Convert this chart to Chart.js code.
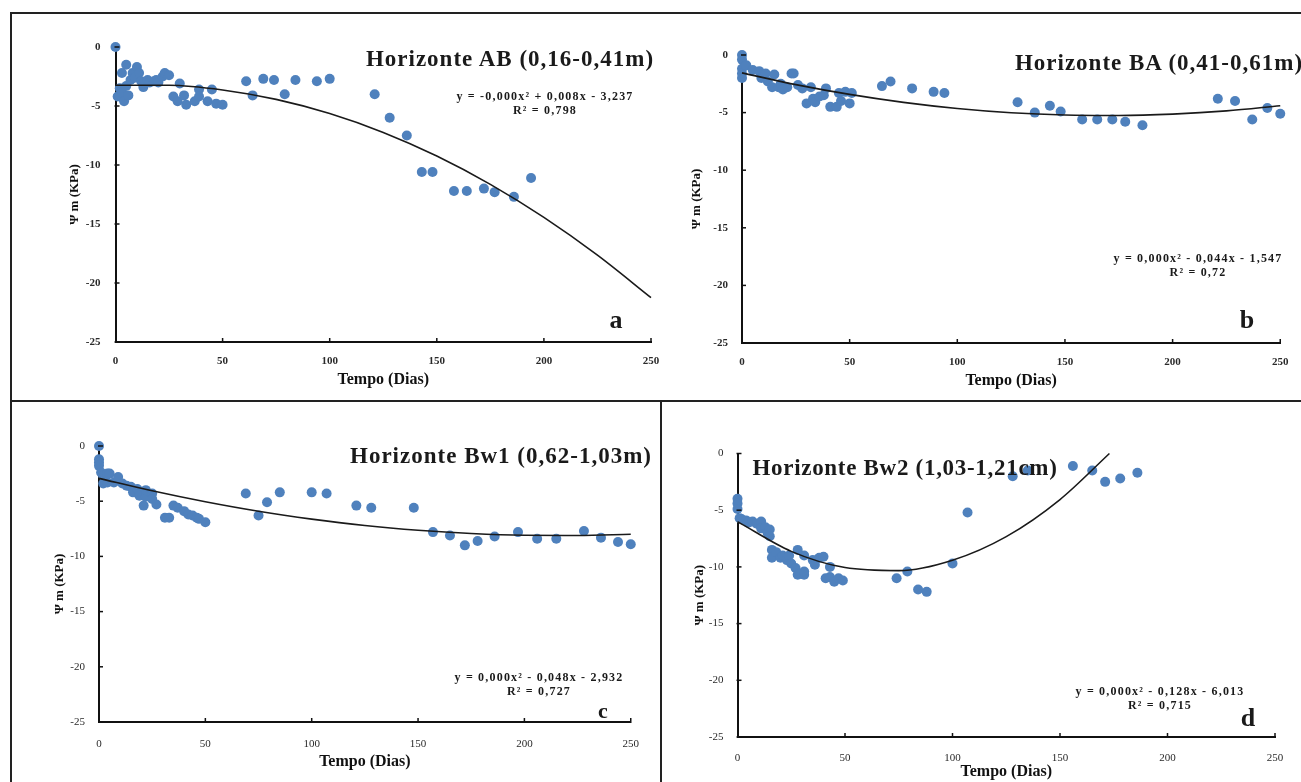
<!DOCTYPE html>
<html><head><meta charset="utf-8">
<script src="https://cdn.jsdelivr.net/npm/chart.js@4.4.1/dist/chart.umd.min.js"></script>
<style>
html,body{margin:0;padding:0;background:#fff;}
body{width:1301px;height:782px;position:relative;overflow:hidden;font-family:"Liberation Serif","Times New Roman",serif;}
canvas{position:absolute;}
.t{position:absolute;white-space:nowrap;font-weight:bold;color:#1a1a1a;transform:translate(-50%,-50%);line-height:1;}
.ttl{font-size:23px;letter-spacing:1px;}
.eq{font-size:12px;letter-spacing:1.2px;text-align:center;line-height:14px;}
.lt{font-size:26px;}
.ln{position:absolute;background:#222;}
</style></head><body>
<div class="ln" style="left:10px;top:12px;width:1291px;height:1.5px"></div>
<div class="ln" style="left:10px;top:12px;width:1.5px;height:770px"></div>
<div class="ln" style="left:10px;top:400px;width:1291px;height:1.5px"></div>
<div class="ln" style="left:660px;top:400px;width:1.5px;height:382px"></div>

<div class="t ttl" style="left:510px;top:58px">Horizonte AB (0,16-0,41m)</div>
<div class="t eq" style="left:545px;top:103px">y = -0,000x² + 0,008x - 3,237<br>R² = 0,798</div>
<div class="t lt" style="left:616px;top:320px">a</div>

<div class="t ttl" style="left:1159px;top:62px">Horizonte BA (0,41-0,61m)</div>
<div class="t eq" style="left:1198px;top:265px">y = 0,000x² - 0,044x - 1,547<br>R² = 0,72</div>
<div class="t lt" style="left:1247px;top:320px">b</div>

<div class="t ttl" style="left:501px;top:455px">Horizonte Bw1 (0,62-1,03m)</div>
<div class="t eq" style="left:539px;top:684px">y = 0,000x² - 0,048x - 2,932<br>R² = 0,727</div>
<div class="t lt" style="left:603px;top:711px;font-size:22px">c</div>

<div class="t ttl" style="left:905px;top:467px;letter-spacing:0.7px">Horizonte Bw2 (1,03-1,21cm)</div>
<div class="t eq" style="left:1160px;top:698px">y = 0,000x² - 0,128x - 6,013<br>R² = 0,715</div>
<div class="t lt" style="left:1248px;top:718px">d</div>

<script>
const xTicks=[0,50,100,150,200,250];
const yTicks=[0,-5,-10,-15,-20,-25];

const daysA=[0,1,2,3,3,4,5,5,6,7,8,9,10,11,12,13,15,16,18,19,20,22,23,25,27,29,30,32,33,37,39,39,43,45,47,50,61,64,69,74,79,84,94,100,121,128,136,143,148,158,164,172,177,186,194];
const psiA=[0,-4.2,-3.5,-2.2,-3.9,-4.6,-1.5,-3.3,-4.1,-2.8,-2.2,-2.6,-1.7,-2.2,-2.9,-3.4,-2.8,-3.0,-2.9,-2.8,-3.0,-2.5,-2.2,-2.4,-4.2,-4.6,-3.1,-4.1,-4.9,-4.6,-3.6,-4.2,-4.6,-3.6,-4.8,-4.9,-2.9,-4.1,-2.7,-2.8,-4.0,-2.8,-2.9,-2.7,-4.0,-6.0,-7.5,-10.6,-10.6,-12.2,-12.2,-12.0,-12.3,-12.7,-11.1];
const trendDaysA=[0,25,50,75,100,125,150,175,200,225,250];
const trendPsiA=[-3.24,-3.24,-3.64,-4.44,-5.64,-7.24,-9.24,-11.64,-14.44,-17.64,-21.24];

const daysB=[0,0,0,0,0,2,5,8,9,11,12,14,15,17,18,19,21,23,24,26,28,30,32,33,34,36,38,39,41,44,45,46,48,50,51,65,69,79,89,94,128,136,143,148,158,165,172,178,186,221,229,237,244,250];
const psiB=[0,-0.4,-1.2,-1.6,-2.0,-0.9,-1.3,-1.4,-2.0,-1.6,-2.3,-2.8,-1.7,-2.8,-2.5,-3.0,-2.8,-1.6,-1.6,-2.6,-2.9,-4.2,-2.8,-3.8,-4.1,-3.6,-3.5,-2.9,-4.5,-4.5,-3.3,-4.0,-3.2,-4.2,-3.3,-2.7,-2.3,-2.9,-3.2,-3.3,-4.1,-5.0,-4.4,-4.9,-5.6,-5.6,-5.6,-5.8,-6.1,-3.8,-4.0,-5.6,-4.6,-5.1];
const trendDaysB=[0,25,50,75,100,125,150,175,200,225,250];
const trendPsiB=[-1.55,-2.57,-3.42,-4.11,-4.64,-5.01,-5.21,-5.25,-5.13,-4.85,-4.40];

const daysC=[0,0,0,0,1,2,2,4,4,5,7,9,11,13,15,16,18,19,21,22,22,25,25,27,31,33,35,37,40,42,44,46,47,50,69,75,79,85,100,107,121,128,148,157,165,172,178,186,197,206,215,228,236,244,250];
const psiC=[0,-1.2,-1.5,-1.8,-2.4,-2.7,-3.4,-2.5,-3.3,-2.5,-3.3,-2.8,-3.4,-3.6,-3.7,-4.2,-3.9,-4.5,-5.4,-4.6,-4.0,-4.3,-4.8,-5.3,-6.5,-6.5,-5.4,-5.6,-5.9,-6.2,-6.3,-6.5,-6.6,-6.9,-4.3,-6.3,-5.1,-4.2,-4.2,-4.3,-5.4,-5.6,-5.6,-7.8,-8.1,-9.0,-8.6,-8.2,-7.8,-8.4,-8.4,-7.7,-8.3,-8.7,-8.9];
const trendDaysC=[0,25,50,75,100,125,150,175,200,225,250];
const trendPsiC=[-2.93,-4.06,-5.05,-5.91,-6.62,-7.20,-7.63,-7.93,-8.09,-8.11,-7.99];

const daysD=[0,0,0,1,2,4,5,7,9,11,11,13,14,15,15,16,16,18,20,21,23,24,25,27,28,28,31,31,31,35,36,38,40,41,43,43,45,47,49,74,79,84,88,100,107,128,135,156,165,171,178,186];
const psiD=[-4.0,-4.4,-4.9,-5.7,-5.8,-5.9,-6.1,-6.0,-6.2,-6.0,-6.6,-6.5,-7.0,-6.7,-7.3,-8.5,-9.2,-8.7,-9.2,-9.0,-9.4,-9.0,-9.7,-10.1,-8.5,-10.7,-10.7,-10.4,-9.0,-9.4,-9.8,-9.2,-9.1,-11.0,-10.9,-10.0,-11.3,-11.0,-11.2,-11.0,-10.4,-12.0,-12.2,-9.7,-5.2,-2.0,-1.5,-1.1,-1.5,-2.5,-2.2,-1.7];
const trendDaysD=[0,25,50,75,100,125,150,173];
const trendPsiD=[-6.01,-8.63,-10.06,-10.33,-9.41,-7.33,-4.06,0];

const SERIF='"Liberation Serif","Times New Roman",serif';

const innerTicks={id:'innerTicks',afterDraw(chart){
  const {ctx,chartArea:a,scales:{x,y}}=chart;
  ctx.save();ctx.strokeStyle='#111';ctx.lineWidth=1.5;
  xTicks.forEach(v=>{if(v===0)return;const p=x.getPixelForValue(v);ctx.beginPath();ctx.moveTo(p,a.bottom-4);ctx.lineTo(p,a.bottom+1);ctx.stroke();});
  yTicks.forEach(v=>{const p=y.getPixelForValue(v);ctx.beginPath();ctx.moveTo(a.left-1,p);ctx.lineTo(a.left+4,p);ctx.stroke();});
  ctx.restore();
}};

function panel(box,g,days,psi,tDays,tPsi){
  const cv=document.createElement('canvas');
  cv.width=box.w;cv.height=box.h;
  cv.style.left=box.l+'px';cv.style.top=box.t+'px';cv.style.width=box.w+'px';cv.style.height=box.h+'px';
  document.body.insertBefore(cv,document.body.firstChild);
  const tickFont={family:SERIF,size:11,weight:g.tw};
  new Chart(cv,{
    type:'scatter',
    data:{datasets:[
      {type:'line',data:tDays.map((x,i)=>({x,y:tPsi[i]})),borderColor:'#1a1a1a',borderWidth:1.6,pointRadius:0,cubicInterpolationMode:'monotone',fill:false,order:0,clip:false},
      {type:'scatter',data:days.map((x,i)=>({x,y:psi[i]})),pointRadius:5,pointHoverRadius:5,pointBackgroundColor:'rgb(79,129,189)',pointBorderWidth:0,order:1,clip:8}
    ]},
    options:{responsive:false,animation:false,events:[],
      layout:{padding:g.pad},
      plugins:{legend:{display:false},tooltip:{enabled:false}},
      scales:{
        x:{type:'linear',min:0,max:250,
          afterBuildTicks:s=>{s.ticks=xTicks.map(v=>({value:v}));},
          afterFit:s=>{s.height=g.xh;},
          ticks:{padding:g.xtp,font:tickFont,color:'#2a2a2a',maxRotation:0,autoSkip:false},
          grid:{display:false,drawTicks:false},
          border:{display:true,color:'#111',width:2},
          title:{display:true,text:'Tempo (Dias)',color:'#111',font:{family:SERIF,size:16,weight:'bold'},padding:{top:0,bottom:g.xtt}}},
        y:{type:'linear',min:-25,max:0,
          afterBuildTicks:s=>{s.ticks=yTicks.map(v=>({value:v}));},
          afterFit:s=>{s.width=g.yw;},
          ticks:{padding:g.ytp,font:tickFont,color:'#2a2a2a',autoSkip:false},
          grid:{display:false,drawTicks:false},
          border:{display:true,color:'#111',width:2},
          title:{display:true,text:'Ψ m (KPa)',color:'#111',font:{family:SERIF,size:13,weight:'bold'},padding:{top:g.ytt,bottom:0}}}
      }
    },
    plugins:[innerTicks]
  });
}

panel({l:20,t:20,w:660,h:375},{pad:{top:27,right:29,left:0,bottom:0},xh:53,yw:95.5,xtp:12.5,ytp:15,xtt:5.4,ytt:47,tw:'bold'},daysA,psiA,trendDaysA,trendPsiA);
panel({l:682,t:20,w:619,h:375},{pad:{top:35,right:17,left:0,bottom:0},xh:52,yw:60,xtp:12.5,ytp:14,xtt:4.4,ytt:7.2,tw:'bold'},daysB,psiB,trendDaysB,trendPsiB);
panel({l:20,t:405,w:635,h:375},{pad:{top:41,right:22,left:0,bottom:0},xh:58,yw:79,xtp:16,ytp:14,xtt:8.4,ytt:32,tw:'normal'},daysC,psiC,trendDaysC,trendPsiC);
panel({l:665,t:405,w:636,h:377},{pad:{top:48.5,right:26,left:0,bottom:0},xh:45,yw:72.5,xtp:15,ytp:14,xtt:0.4,ytt:27,tw:'normal'},daysD,psiD,trendDaysD,trendPsiD);
</script>
</body></html>
